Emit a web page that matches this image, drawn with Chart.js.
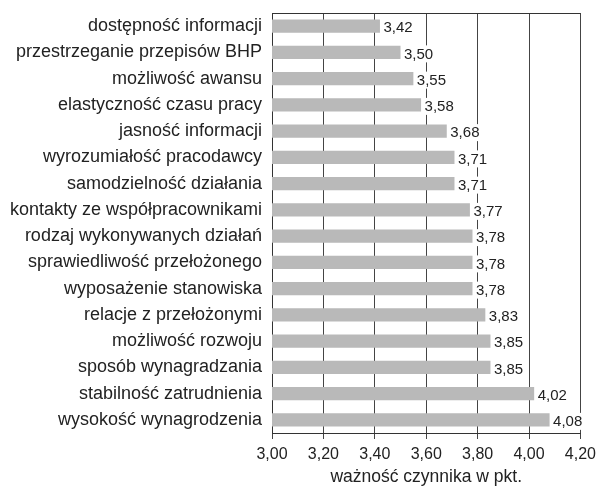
<!DOCTYPE html>
<html>
<head>
<meta charset="utf-8">
<script src="https://cdn.jsdelivr.net/npm/chart.js@4"></script>
<style>
  html, body { margin: 0; padding: 0; background: #fff; }
  #wrap { width: 602px; height: 488px; }
</style>
</head>
<body>
<div id="wrap"><canvas id="chart" width="602" height="488"></canvas></div>
<script>
const categories = [
  "dostępność informacji",
  "przestrzeganie przepisów BHP",
  "możliwość awansu",
  "elastyczność czasu pracy",
  "jasność informacji",
  "wyrozumiałość pracodawcy",
  "samodzielność działania",
  "kontakty ze współpracownikami",
  "rodzaj wykonywanych działań",
  "sprawiedliwość przełożonego",
  "wyposażenie stanowiska",
  "relacje z przełożonymi",
  "możliwość rozwoju",
  "sposób wynagradzania",
  "stabilność zatrudnienia",
  "wysokość wynagrodzenia"
];
const scores = [3.42, 3.50, 3.55, 3.58, 3.68, 3.71, 3.71, 3.77, 3.78, 3.78, 3.78, 3.83, 3.85, 3.85, 4.02, 4.08];
const axisTitle = "ważność czynnika w pkt.";

const fmt = v => v.toFixed(2).replace(".", ",");
const FONT = "'Liberation Sans', Arial, sans-serif";

// value labels with white background + top border of plot area
const extras = {
  id: "extras",
  afterDatasetsDraw(chart) {
    const ctx = chart.ctx;
    const area = chart.chartArea;
    ctx.save();
    ctx.strokeStyle = "#333";
    ctx.lineWidth = 1;
    ctx.beginPath();
    ctx.moveTo(area.left, area.top + 0.5);
    ctx.lineTo(area.right, area.top + 0.5);
    ctx.stroke();

    ctx.font = "15px " + FONT;
    ctx.textBaseline = "middle";
    ctx.textAlign = "left";
    const meta = chart.getDatasetMeta(0);
    meta.data.forEach((bar, i) => {
      const txt = fmt(scores[i]);
      const w = ctx.measureText(txt).width;
      const x = bar.x + 3;
      ctx.fillStyle = "#fff";
      ctx.fillRect(x, bar.y - 7, w + 1, 17);
      ctx.fillStyle = "#222";
      ctx.fillText(txt, x + 0.5, bar.y + 2);
    });
    ctx.restore();
  }
};

new Chart(document.getElementById("chart"), {
  type: "bar",
  data: {
    labels: categories,
    datasets: [{
      data: scores,
      backgroundColor: "#b9b9b9",
      borderWidth: 0,
      barPercentage: 0.51,
      categoryPercentage: 1.0
    }]
  },
  options: {
    indexAxis: "y",
    responsive: false,
    animation: false,
    layout: { padding: { top: 13, right: 17, bottom: 0, left: 0 } },
    plugins: { legend: { display: false }, tooltip: { enabled: false } },
    scales: {
      x: {
        min: 3.0,
        max: 4.2,
        ticks: {
          stepSize: 0.2,
          color: "#222",
          font: { family: FONT, size: 16 },
          padding: 6,
          callback: v => fmt(v)
        },
        grid: { color: "#444", lineWidth: 1, drawTicks: true, tickLength: 6 },
        border: { color: "#333", width: 1 },
        title: {
          display: true,
          text: axisTitle,
          color: "#222",
          font: { family: FONT, size: 17.5 },
          padding: { top: 4, bottom: 0 }
        },
        afterFit: s => { s.height = 55; }
      },
      y: {
        ticks: {
          color: "#222",
          font: { family: FONT, size: 18 },
          padding: 2,
          autoSkip: false
        },
        grid: { display: false },
        border: { color: "#333", width: 1 },
        afterFit: s => { s.width = 272; }
      }
    }
  },
  plugins: [extras]
});
</script>
</body>
</html>
